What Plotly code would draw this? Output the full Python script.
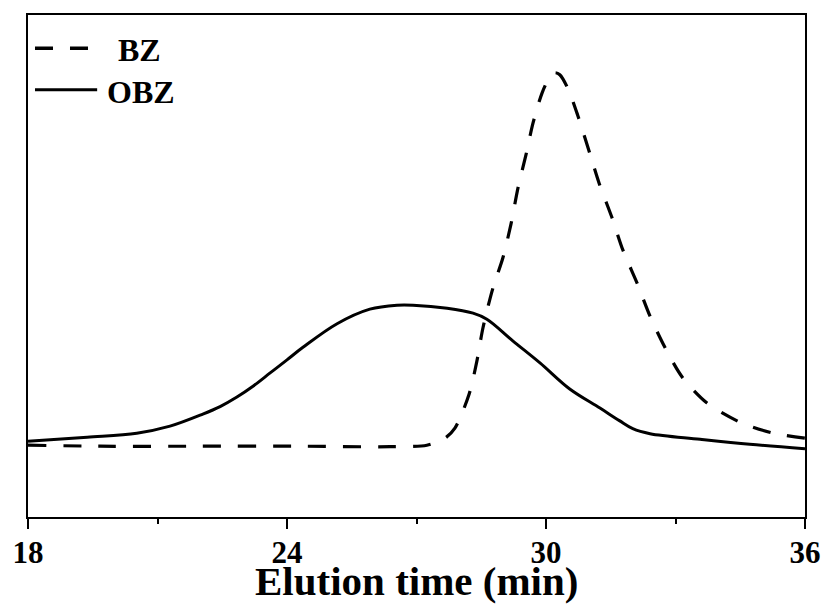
import plotly.graph_objects as go

# ---- data ----
bz_time = [18.00, 19.67, 21.98, 24.30, 26.39, 27.24, 27.66, 27.89, 28.22, 28.40, 28.54,
           28.77, 29.00, 29.19, 29.35, 29.54, 29.70, 29.91, 30.09, 30.21, 30.32, 30.51,
           30.74, 31.02, 31.23, 31.53, 31.78, 32.11, 32.41, 32.76, 33.17, 33.73, 34.49,
           35.26, 36.00]
bz_signal = [14.3, 14.1, 14.1, 14.1, 14.0, 14.3, 15.7, 17.7, 24.5, 31.1, 37.7,
             45.6, 51.6, 58.4, 65.5, 72.3, 78.5, 84.5, 87.7, 88.5, 88.1, 85.3,
             79.9, 72.3, 66.5, 59.6, 53.2, 46.6, 40.0, 33.7, 27.7, 22.7, 18.9,
             16.7, 15.7]

obz_time = [18.00, 19.37, 20.52, 21.29, 22.05, 22.45, 22.84, 23.22, 23.61, 24.00, 24.37,
            25.16, 25.92, 26.55, 26.92, 27.71, 28.31, 28.63, 29.23, 29.86, 30.55, 31.25,
            31.70, 32.01, 32.41, 33.57, 34.72, 36.00]
obz_signal = [15.1, 15.9, 16.7, 18.1, 20.5, 22.0, 23.9, 26.1, 28.7, 31.3, 33.8,
              38.5, 41.4, 42.2, 42.2, 41.6, 40.6, 39.4, 35.1, 30.7, 25.5, 21.7,
              19.2, 17.6, 16.6, 15.5, 14.5, 13.6]

series_names = ["BZ", "OBZ"]
x_ticks = [18, 24, 30, 36]
x_title = "Elution time (min)"

FONT = "Liberation Serif, Times New Roman, serif"

fig = go.Figure()
fig.add_trace(go.Scatter(x=bz_time, y=bz_signal, mode="lines", name=series_names[0],
                         line=dict(color="black", width=3.2, dash="18px,17px", shape="spline", smoothing=0.8),
                         showlegend=False))
fig.add_trace(go.Scatter(x=obz_time, y=obz_signal, mode="lines", name=series_names[1],
                         line=dict(color="black", width=3, shape="spline", smoothing=1.0),
                         showlegend=False))

# manual legend (paper coordinates)
fig.add_shape(type="line", xref="paper", yref="paper", x0=0.009, x1=0.080, y0=0.934, y1=0.934,
              line=dict(color="black", width=3.5, dash="18px,17px"))
fig.add_shape(type="line", xref="paper", yref="paper", x0=0.009, x1=0.089, y0=0.851, y1=0.851,
              line=dict(color="black", width=3))
fig.add_annotation(xref="paper", yref="paper", x=0.113, y=0.930, text=series_names[0],
                   showarrow=False, xanchor="left", yanchor="middle",
                   font=dict(family=FONT, size=32, color="black", weight="bold"))
fig.add_annotation(xref="paper", yref="paper", x=0.099, y=0.847, text=series_names[1],
                   showarrow=False, xanchor="left", yanchor="middle",
                   font=dict(family=FONT, size=32, color="black", weight="bold"))

# x-axis title
fig.add_annotation(xref="paper", yref="paper", x=0.5, y=-0.079, text=x_title,
                   showarrow=False, xanchor="center", yanchor="top", borderpad=0,
                   font=dict(family=FONT, size=41, color="black", weight="bold"))

fig.update_layout(
    width=826, height=606,
    margin=dict(l=28, r=21, t=15, b=89),
    plot_bgcolor="white", paper_bgcolor="white",
    showlegend=False,
)
fig.update_xaxes(
    range=[18, 36], tickmode="array", tickvals=x_ticks, ticktext=[str(t) for t in x_ticks],
    ticks="outside", ticklen=10, tickwidth=2, tickcolor="black",
    minor=dict(tickmode="array", tickvals=[21, 27, 33], ticks="outside", ticklen=5, tickwidth=2, tickcolor="black"),
    showline=True, linecolor="black", linewidth=2, mirror=True,
    showgrid=False, zeroline=False, automargin=False,
    ticklabelstandoff=-3,
    tickfont=dict(family=FONT, size=31, color="black", weight="bold"),
)
fig.update_yaxes(
    range=[0, 100], showticklabels=False, ticks="",
    showline=True, linecolor="black", linewidth=2, mirror=True,
    showgrid=False, zeroline=False, automargin=False,
)

fig.write_html("out.html")
